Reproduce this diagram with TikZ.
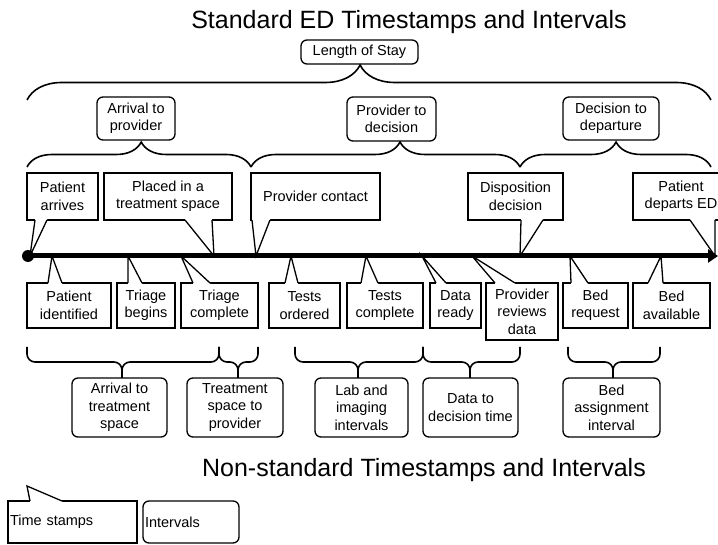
\documentclass[tikz,border=0pt]{standalone}
\usepackage{fontspec}
\setmainfont{Liberation Sans}
\usetikzlibrary{calc,positioning,decorations.pathreplacing,arrows.meta}

\newcommand\lbl{\fontsize{14.5}{17.5}\selectfont}
% pointer of a time stamp box: corner anchor, two x offsets, inward shift, tip
\newcommand\tsptr[5]{%
  \fill[white] ([xshift=#2pt,yshift=#4pt]#1) -- ([xshift=#2pt]#1) -- (#5)
    -- ([xshift=#3pt]#1) -- ([xshift=#3pt,yshift=#4pt]#1) -- cycle;
  \draw[ptr] ([xshift=#2pt]#1) -- (#5) -- ([xshift=#3pt]#1);}
% brace under the time line: left end, tip, right end
\newcommand\lowbrace[3]{%
  \draw[lbrc] (#1,347) -- (#1,362) -- (#2,362) -- (#2,378);
  \draw[lbrc] (#3,347) -- (#3,362) -- (#2,362) -- (#2,378);}

\begin{document}
\begin{tikzpicture}[x=1pt,y=-1pt,>=Stealth,
  stamp/.style={draw,line width=1.3pt,outer sep=0pt,inner sep=1pt,align=center,font=\lbl},
  ival/.style={stamp,rounded corners=6pt},
  ptr/.style={line width=1.3pt,line join=miter},
  brc/.style={decorate,line width=1.6pt,decoration={brace,amplitude=#1}},
  lbrc/.style={line width=1.6pt,rounded corners=8pt},
  ttl/.style={font=\fontsize{25}{30}\selectfont}]
\useasboundingbox (0,0) rectangle (718,545);
\clip (0,0) rectangle (718,545);

% titles
\node[ttl] (title) at (409,22) {Standard ED Timestamps and Intervals};
\node[ttl] (title2) at (424,470) {Non-standard Timestamps and Intervals};

% intervals above the line
\node[ival,minimum width=117pt,minimum height=24pt] (los) at (359.5,52) {Length of Stay};
\node[ival,minimum width=78pt,minimum height=43pt] (a2p) at (136,118.5) {Arrival to\\provider};
\node[ival,minimum width=89pt,minimum height=44pt] (p2d) at (391.5,119) {Provider to\\decision};
\node[ival,minimum width=96pt,minimum height=43pt] (d2d) at (611,118.5) {Decision to\\departure};

\draw[brc=35pt,decoration={aspect=0.487}] (27,100) -- (711,100);
\draw[brc=25pt,decoration={aspect=0.51}] (27,167) -- (251,167);
\draw[brc=25pt,decoration={aspect=0.554}] (251,167) -- (520,167);
\draw[brc=25pt,decoration={aspect=0.503}] (520,167) -- (711,167);

% time stamps above the line
\node[stamp,minimum width=71pt,minimum height=47pt] (arr) at (62.5,196.5) {Patient\\arrives};
\node[stamp,minimum width=128pt,minimum height=47pt] (plc) at (168,196.5) {Placed in a\\treatment space};
\node[stamp,minimum width=129pt,minimum height=47pt] (pcon) at (315.5,196.5) {Provider contact};
\node[stamp,minimum width=95pt,minimum height=47pt] (disp) at (515.5,196.5) {Disposition\\decision};
\node[stamp,minimum width=96pt,minimum height=47pt] (dep) at (681,196.5) {Patient\\departs ED};

% time stamps below the line
\node[stamp,minimum width=84pt,minimum height=45pt] (ident) at (69,305.5) {Patient\\identified};
\node[stamp,minimum width=58pt,minimum height=45pt] (trb) at (146,305.5) {Triage\\begins};
\node[stamp,minimum width=77pt,minimum height=45pt] (trc) at (219.5,305.5) {Triage\\complete};
\node[stamp,minimum width=71pt,minimum height=45pt] (tord) at (304.5,305.5) {Tests\\ordered};
\node[stamp,minimum width=76pt,minimum height=45pt] (tcom) at (385,305.5) {Tests\\complete};
\node[stamp,minimum width=51pt,minimum height=45pt] (drdy) at (455.5,305.5) {Data\\ready};
\node[stamp,minimum width=72pt,minimum height=57pt] (prev) at (522,311.5) {Provider\\reviews\\data};
\node[stamp,minimum width=65pt,minimum height=45pt] (breq) at (595.5,305.5) {Bed\\request};
\node[stamp,minimum width=77pt,minimum height=45pt] (bav) at (671.5,305.5) {Bed\\available};

% points on the time line
\coordinate (tArr) at (30,256);
\coordinate (tPlc) at (214,256);
\coordinate (tPcon) at (256,256);
\coordinate (tDisp) at (520,256);
\coordinate (tDep) at (715,256);
\coordinate (tIdent) at (52,256);
\coordinate (tTrb) at (128,256);
\coordinate (tTrc) at (181,256);
\coordinate (tTord) at (291,256);
\coordinate (tTcom) at (366,256);
\coordinate (tDrdy) at (422,256);
\coordinate (tPrev) at (472,256);
\coordinate (tBreq) at (570,256);
\coordinate (tBav) at (661,256);

\tsptr{arr.south west}{8}{20}{1.2}{tArr}
\tsptr{plc.south west}{81}{108}{1.2}{tPlc}
\tsptr{pcon.south west}{1}{19}{1.2}{tPcon}
\tsptr{disp.south west}{53}{75}{1.2}{tDisp}
\tsptr{dep.south west}{57}{82}{1.2}{tDep}
\tsptr{ident.north west}{21}{35}{-1.2}{tIdent}
\tsptr{trb.north west}{11}{25}{-1.2}{tTrb}
\tsptr{trc.north west}{12}{29}{-1.2}{tTrc}
\tsptr{tord.north west}{16}{29}{-1.2}{tTord}
\tsptr{tcom.north west}{14}{31}{-1.2}{tTcom}
\tsptr{drdy.north west}{6}{16}{-1.2}{tDrdy}
\tsptr{prev.north west}{9}{29}{-1.2}{tPrev}
\tsptr{breq.north west}{8}{25}{-1.2}{tBreq}
\tsptr{bav.north west}{15}{30}{-1.2}{tBav}

% the time line
\node[circle,fill,inner sep=0pt,minimum size=12pt] (start) at (28,256) {};
\coordinate (stop) at (718,256);
\draw[line width=5pt,-{Triangle[length=10pt,width=13pt]}] (start.center) -- (stop);

% intervals below the line
\lowbrace{27}{122}{219}
\lowbrace{219}{238}{258}
\lowbrace{295}{358}{423}
\lowbrace{423}{470}{520}
\lowbrace{568}{613}{660}
\node[ival,minimum width=95pt,minimum height=59pt] (a2t) at (119.5,407.5) {Arrival to\\treatment\\space};
\node[ival,minimum width=96pt,minimum height=59pt] (t2p) at (235,407.5) {Treatment\\space to\\provider};
\node[ival,minimum width=93pt,minimum height=59pt] (lab) at (361.5,407.5) {Lab and\\imaging\\intervals};
\node[ival,minimum width=95pt,minimum height=59pt] (d2t) at (470.5,407.5) {Data to\\decision time};
\node[ival,minimum width=97pt,minimum height=59pt] (bed) at (611.5,407.5) {Bed\\assignment\\interval};

% legend
\node[stamp,inner sep=2pt,text width=125pt,align=left,minimum height=42pt] (legts) at (72.5,522) {Time stamps};
\coordinate (tLeg) at (27,486);
\tsptr{legts.north west}{22}{54}{-1.2}{tLeg}
\node[ival,inner sep=2pt,text width=92pt,align=left,minimum height=42pt] (legiv) at (191,522) {Intervals};
\end{tikzpicture}
\end{document}
